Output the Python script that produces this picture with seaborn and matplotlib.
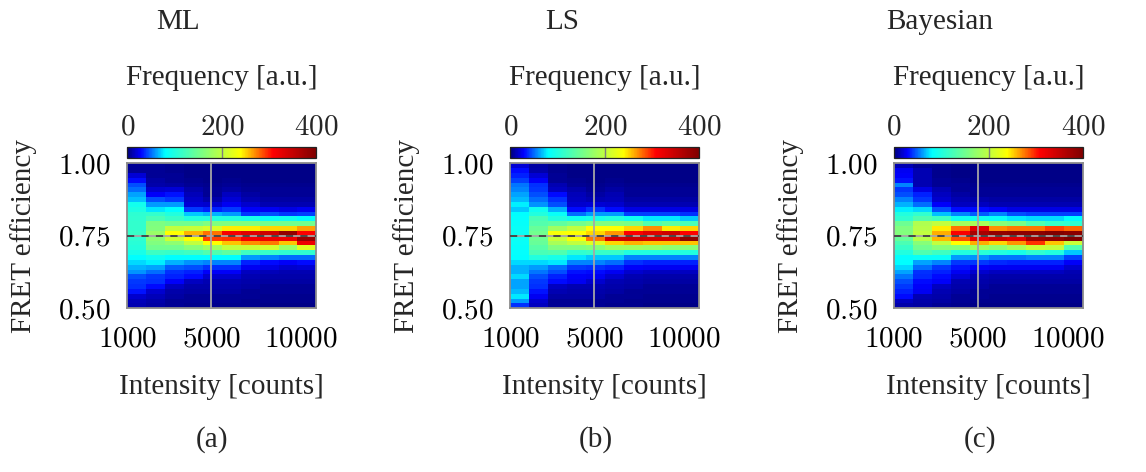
import numpy as np
import pandas as pd
import matplotlib
matplotlib.use("Agg")
import matplotlib.pyplot as plt
import matplotlib.transforms as mtransforms
import seaborn as sns
from matplotlib.colors import LinearSegmentedColormap

# ---------------- data ----------------
panel_titles = ["ML", "LS", "Bayesian"]
panel_tags = ["(a)", "(b)", "(c)"]

# intensity bin edges (counts) and FRET bin edges (top -> bottom)
intensity_edges = [1000, 1900, 2800, 3700, 4600, 5500, 6400, 7300, 8200, 9100, 10000]
fret_edges = np.linspace(1.00, 0.50, 31)

x_ticks = [1000, 5000, 10000]
y_ticks = [0.50, 0.75, 1.00]
cbar_ticks = [0, 200, 400]
true_fret = 0.75

# each list = one intensity column, values from FRET 1.00 (top) down to 0.50
ml_counts = [
    [5, 6, 20, 30, 45, 50, 62, 68, 92, 98, 108, 110, 112, 112, 115, 108, 105, 102, 95, 80, 72, 65, 58, 45, 40, 38, 32, 18, 14, 12],
    [5, 5, 6, 8, 10, 18, 28, 45, 60, 75, 112, 125, 158, 162, 175, 168, 160, 150, 118, 90, 78, 62, 50, 40, 38, 30, 18, 14, 10, 8],
    [4, 4, 5, 6, 8, 20, 32, 40, 60, 80, 100, 115, 150, 200, 240, 208, 170, 150, 115, 80, 65, 48, 38, 35, 28, 15, 10, 8, 6, 5],
    [3, 3, 3, 4, 6, 10, 14, 16, 20, 40, 70, 100, 150, 205, 260, 240, 200, 165, 120, 80, 58, 45, 35, 30, 15, 10, 8, 6, 5, 4],
    [3, 3, 3, 3, 4, 5, 6, 10, 18, 35, 65, 100, 160, 215, 278, 292, 240, 180, 130, 80, 55, 38, 28, 18, 12, 10, 8, 6, 5, 4],
    [3, 3, 3, 4, 5, 8, 15, 20, 25, 40, 60, 100, 160, 245, 315, 295, 255, 200, 140, 80, 55, 38, 28, 18, 12, 10, 8, 6, 5, 4],
    [3, 3, 3, 3, 4, 6, 8, 12, 18, 28, 40, 95, 160, 245, 330, 315, 270, 205, 120, 60, 35, 25, 15, 12, 10, 8, 6, 5, 4, 4],
    [3, 3, 3, 3, 4, 5, 6, 8, 12, 25, 45, 85, 150, 250, 345, 320, 275, 210, 115, 55, 30, 22, 14, 10, 8, 6, 5, 4, 4, 3],
    [3, 3, 3, 3, 4, 5, 6, 8, 12, 22, 40, 90, 150, 250, 385, 320, 255, 175, 110, 50, 28, 18, 12, 10, 8, 6, 5, 4, 4, 3],
    [3, 3, 3, 3, 4, 5, 6, 8, 12, 25, 42, 80, 150, 265, 310, 380, 320, 220, 110, 50, 30, 20, 12, 10, 8, 6, 5, 4, 4, 3],
]

ls_counts = [
    [20, 30, 35, 42, 52, 55, 62, 66, 78, 70, 80, 82, 84, 85, 86, 86, 85, 84, 82, 80, 72, 65, 65, 72, 62, 62, 66, 75, 60, 38],
    [8, 10, 20, 28, 38, 40, 45, 50, 58, 90, 100, 125, 132, 145, 150, 148, 145, 135, 125, 100, 72, 60, 52, 45, 40, 38, 32, 25, 18, 15],
    [4, 4, 5, 6, 12, 15, 30, 38, 45, 65, 85, 100, 140, 180, 235, 205, 185, 160, 130, 95, 75, 50, 45, 35, 30, 15, 12, 8, 6, 5],
    [3, 3, 3, 4, 5, 10, 14, 15, 18, 30, 50, 90, 150, 200, 240, 235, 200, 160, 110, 75, 55, 40, 32, 28, 25, 12, 10, 8, 6, 5],
    [3, 3, 3, 3, 4, 6, 8, 12, 20, 38, 60, 95, 160, 240, 250, 275, 220, 165, 115, 70, 55, 38, 30, 25, 18, 12, 10, 8, 6, 5],
    [3, 3, 3, 4, 5, 8, 12, 14, 18, 30, 60, 100, 160, 240, 268, 340, 250, 180, 115, 70, 50, 35, 25, 18, 12, 10, 8, 6, 5, 4],
    [3, 3, 3, 3, 4, 5, 6, 8, 12, 22, 42, 90, 155, 250, 310, 345, 260, 180, 100, 55, 38, 28, 18, 12, 10, 8, 6, 5, 4, 4],
    [3, 3, 3, 3, 4, 5, 6, 8, 12, 22, 42, 75, 130, 270, 330, 340, 255, 175, 100, 55, 35, 25, 15, 10, 8, 6, 5, 4, 4, 3],
    [3, 3, 3, 3, 4, 5, 6, 8, 12, 22, 42, 75, 140, 245, 345, 340, 255, 170, 100, 55, 35, 25, 15, 10, 8, 6, 5, 4, 4, 3],
    [3, 3, 3, 3, 4, 5, 6, 8, 12, 22, 38, 70, 125, 250, 310, 390, 255, 165, 100, 55, 35, 25, 15, 10, 8, 6, 5, 4, 4, 3],
]

bayes_counts = [
    [12, 25, 28, 32, 55, 40, 45, 55, 65, 78, 100, 110, 148, 160, 162, 145, 128, 115, 100, 82, 80, 72, 62, 52, 45, 40, 35, 30, 15, 10],
    [6, 12, 12, 12, 12, 22, 35, 40, 50, 72, 110, 130, 190, 195, 200, 195, 165, 150, 130, 85, 62, 50, 38, 36, 30, 28, 25, 12, 10, 8],
    [4, 4, 4, 5, 6, 12, 15, 18, 28, 45, 68, 120, 200, 245, 262, 258, 200, 165, 120, 85, 55, 40, 35, 30, 28, 15, 12, 10, 8, 6],
    [3, 3, 3, 4, 5, 6, 8, 12, 15, 30, 55, 90, 180, 278, 312, 288, 240, 165, 100, 60, 40, 32, 25, 20, 12, 10, 8, 6, 5, 4],
    [3, 3, 3, 3, 4, 5, 6, 10, 15, 30, 48, 90, 185, 330, 370, 322, 262, 180, 105, 58, 40, 28, 18, 12, 10, 8, 6, 5, 4, 3],
    [3, 3, 3, 3, 4, 5, 6, 8, 12, 28, 55, 85, 165, 270, 385, 345, 250, 170, 100, 52, 36, 25, 15, 10, 8, 6, 5, 4, 4, 3],
    [3, 3, 3, 3, 4, 5, 6, 8, 12, 22, 45, 75, 155, 275, 390, 330, 268, 185, 95, 52, 35, 25, 15, 10, 8, 6, 5, 4, 4, 3],
    [3, 3, 3, 3, 4, 5, 6, 8, 12, 22, 42, 72, 130, 275, 390, 375, 295, 205, 110, 55, 35, 25, 15, 10, 8, 6, 5, 4, 4, 3],
    [3, 3, 3, 3, 4, 5, 6, 8, 12, 22, 42, 72, 115, 290, 400, 385, 255, 200, 100, 55, 35, 25, 15, 10, 8, 6, 5, 4, 4, 3],
    [3, 3, 3, 3, 4, 5, 6, 8, 12, 22, 42, 80, 110, 280, 392, 400, 205, 130, 70, 42, 28, 18, 12, 10, 8, 6, 5, 4, 4, 3],
]

# ---------------- style ----------------
sns.set_theme(style="white")
plt.rcParams["font.family"] = ["Liberation Serif", "DejaVu Serif"]
plt.rcParams["mathtext.fontset"] = "cm"

cmap = LinearSegmentedColormap.from_list(
    "pgfjet",
    [(0.00, (0.0, 0.0, 0.5)),
     (0.07, (0.0, 0.0, 1.0)),
     (0.20, (0.0, 1.0, 1.0)),
     (0.60, (1.0, 1.0, 0.0)),
     (0.77, (1.0, 0.0, 0.0)),
     (1.00, (0.5, 0.0, 0.0))],
)

W, H = 1146, 472
fig = plt.figure(figsize=(W / 100, H / 100), dpi=100)

lefts = [127.3, 510.3, 894.0]
ax_w = 189.0
ax_top, ax_bot = 163.3, 308.3
cb_top, cb_bot = 146.5, 158.3
title_x = [178, 562, 940]
tag_x = [212, 596, 980]

n_cols = len(intensity_edges) - 1
col_pos = np.arange(n_cols + 1)
row_pos = np.arange(len(fret_edges))


def xpos(v):
    return np.interp(v, intensity_edges, col_pos)


def ypos(v):
    return np.interp(v, fret_edges[::-1], row_pos[::-1])


centers_i = [(a + b) / 2 for a, b in zip(intensity_edges[:-1], intensity_edges[1:])]
centers_f = [round((a + b) / 2, 4) for a, b in zip(fret_edges[:-1], fret_edges[1:])]

grid_c = "#a6a6a6"
tick_fs = 21
lab_fs = 21

for k, counts in enumerate([ml_counts, ls_counts, bayes_counts]):
    df = pd.DataFrame(np.array(counts).T, index=centers_f, columns=centers_i)
    l = lefts[k] / W
    ax = fig.add_axes([l, 1 - ax_bot / H, ax_w / W, (ax_bot - ax_top) / H])
    cax = fig.add_axes([l, 1 - cb_bot / H, ax_w / W, (cb_bot - cb_top) / H])
    sns.heatmap(df, ax=ax, cmap=cmap, vmin=0, vmax=400, cbar_ax=cax,
                cbar_kws=dict(orientation="horizontal", ticks=cbar_ticks),
                xticklabels=False, yticklabels=False)

    # axes ticks
    ax.set_xticks([xpos(v) for v in x_ticks])
    ax.set_xticklabels([f"${v}$" for v in x_ticks], fontsize=tick_fs)
    ax.set_yticks([ypos(v) for v in y_ticks])
    ax.set_yticklabels([f"${v:.2f}$" for v in y_ticks], fontsize=tick_fs)
    ax.tick_params(axis="both", length=0, colors="black")
    ax.tick_params(axis="y", pad=12)
    ax.tick_params(axis="x", pad=13)
    last = ax.get_xticklabels()[-1]
    last.set_transform(last.get_transform() +
                       mtransforms.ScaledTranslation(-15 / 100, 0, fig.dpi_scale_trans))

    # grid / reference lines
    ax.axvline(xpos(5000), color=grid_c, lw=1.3, zorder=3)
    ax.axhline(ypos(true_fret), color=grid_c, lw=1.3, zorder=3)
    ax.axhline(ypos(true_fret), color="#404040", lw=1.3, ls=(0, (4, 4)), zorder=4)
    for s in ax.spines.values():
        s.set_visible(True)
        s.set_color("#8c8c8c")
        s.set_linewidth(1.3)

    ax.set_ylabel("FRET efficiency", fontsize=lab_fs)
    ax.yaxis.set_label_coords(-0.478, 0.5)
    ax.set_xlabel("Intensity [counts]", fontsize=lab_fs)
    ax.xaxis.set_label_coords(0.5, -0.452)

    # colorbar
    cbar = ax.collections[0].colorbar
    cbar.outline.set_edgecolor("#222222")
    cbar.outline.set_linewidth(0.9)
    cax.axvline(200, color="#7f7f7f", lw=1.0)
    cax.xaxis.set_ticks_position("top")
    cax.set_xticks(cbar_ticks)
    cax.set_xticklabels([f"${v}$" for v in cbar_ticks], fontsize=tick_fs)
    cax.tick_params(axis="x", length=0, pad=4)
    cax.xaxis.set_label_position("top")
    cax.set_xlabel("Frequency [a.u.]", fontsize=lab_fs)
    cax.xaxis.set_label_coords(0.5, 6.2)

    fig.text(title_x[k] / W, 1 - 22 / H, panel_titles[k], fontsize=21,
             ha="center", va="center")
    fig.text(tag_x[k] / W, 1 - 440 / H, panel_tags[k], fontsize=21,
             ha="center", va="center")

fig.savefig("out.png", dpi=100)
